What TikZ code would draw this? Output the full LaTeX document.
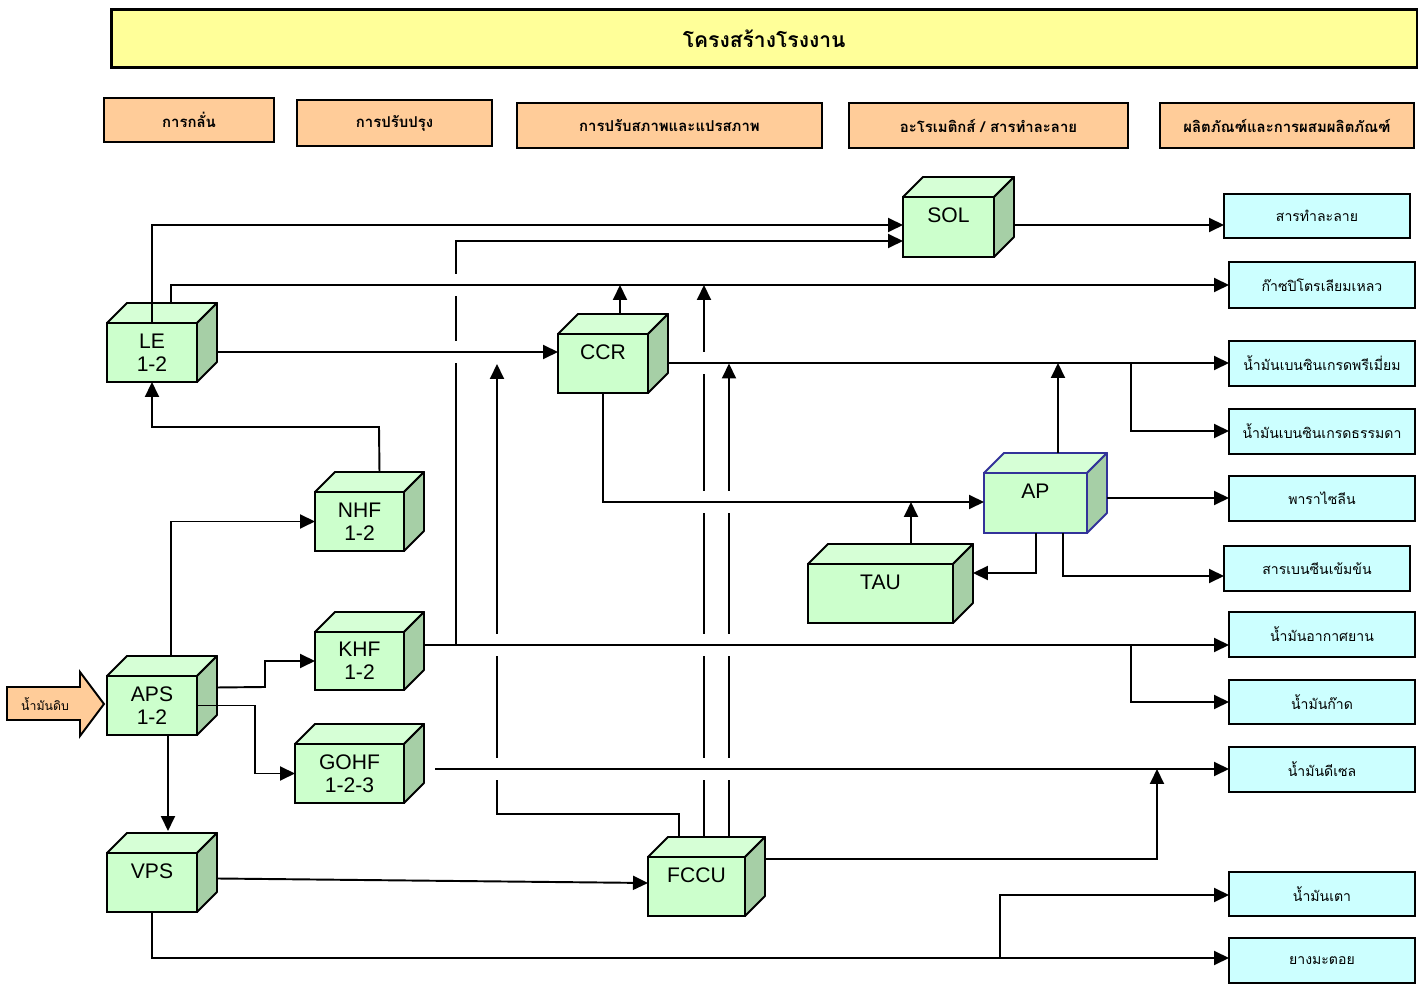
\documentclass[tikz,border=0pt]{standalone}
\usepackage{fontspec}
\setmainfont{Liberation Sans}
\newfontfamily\thaifont[Script=Thai]{Loma}
\usetikzlibrary{arrows.meta}
\definecolor{titleyellow}{RGB}{255,255,153}
\definecolor{headorange}{RGB}{255,204,153}
\definecolor{prodcyan}{RGB}{204,255,255}
\definecolor{unitfront}{RGB}{204,255,204}
\definecolor{unittop}{RGB}{214,255,214}
\definecolor{unitside}{RGB}{166,207,166}
\definecolor{apblue}{RGB}{51,51,153}
\tikzset{
  >={Triangle[length=3mm,width=2.8mm]},
  flow/.style={->,line width=1.1pt,draw=#1},
  flow/.default=black,
  head/.style={draw,fill=headorange,line width=1.1pt,anchor=north west,inner sep=0pt,outer sep=0pt,
    minimum height=0.9cm,font=\thaifont\bfseries\fontsize{8.5}{10}\selectfont},
  prod/.style={draw,fill=prodcyan,line width=1.1pt,anchor=north west,inner sep=0pt,outer sep=0pt,
    minimum width=3.72cm,minimum height=0.9cm,font=\thaifont\fontsize{8}{10}\selectfont},
  unit/.style={draw=#1,fill=unitfront,line width=1.1pt,anchor=north west,inner sep=0pt,outer sep=0pt,
    minimum width=1.8cm,minimum height=1.18cm,align=center,font=\fontsize{12}{13}\selectfont},
  unit/.default=black,
  face top/.style={fill=unittop,line width=1.1pt,line join=round},
  face side/.style={fill=unitside,line width=1.1pt,line join=round},
  gap/.style={fill=white},
}
\begin{document}
\begin{tikzpicture}[x=0.02cm,y=-0.02cm]
  \useasboundingbox (0,0) rectangle (1428,986);
  % title and column headers
  \node[draw,fill=titleyellow,line width=1.5pt,anchor=north west,minimum width=26.12cm,minimum height=1.16cm,
    inner sep=0pt,font=\thaifont\bfseries\fontsize{12}{14}\selectfont] (title) at (110,8) {โครงสร้างโรงงาน};
  \node[head,minimum width=3.4cm,minimum height=0.88cm] (hdist) at (104,98) {การกลั่น};
  \node[head,minimum width=3.9cm,minimum height=0.92cm] (hrefine) at (297,100) {การปรับปรุง};
  \node[head,minimum width=6.1cm] (hconv) at (517,103) {การปรับสภาพและแปรสภาพ};
  \node[head,minimum width=5.58cm] (harom) at (849,103) {อะโรเมติกส์ / สารทำละลาย};
  \node[head,minimum width=5.08cm] (hprod) at (1160,103) {ผลิตภัณฑ์และการผสมผลิตภัณฑ์};

  % products
  \node[prod,minimum height=0.88cm] (solv) at (1224,194) {สารทำละลาย};
  \node[prod,minimum height=0.92cm] (lpg) at (1229,262) {ก๊าซปิโตรเลียมเหลว};
  \node[prod] (premium) at (1229,341) {น้ำมันเบนซินเกรดพรีเมี่ยม};
  \node[prod] (regular) at (1229,409) {น้ำมันเบนซินเกรดธรรมดา};
  \node[prod] (pxylene) at (1229,476) {พาราไซลีน};
  \node[prod] (benzene) at (1224,546) {สารเบนซีนเข้มข้น};
  \node[prod] (jet) at (1229,612) {น้ำมันอากาศยาน};
  \node[prod,minimum height=0.88cm] (kero) at (1229,680) {น้ำมันก๊าด};
  \node[prod] (diesel) at (1229,747) {น้ำมันดีเซล};
  \node[prod,minimum height=0.88cm] (fuel) at (1229,872) {น้ำมันเตา};
  \node[prod] (asphalt) at (1229,938) {ยางมะตอย};

  % crude feed
  \filldraw[fill=headorange,line width=1.1pt,line join=miter] (7,687) -- (80,687) -- (80,672) -- (104,704)
    -- (80,736) -- (80,720) -- (7,720) -- cycle;
  \node[font=\thaifont\scriptsize] (crude) at (45,704) {น้ำมันดิบ};

  % process units
  \node[unit] (le) at (107,323) {LE\\1-2};
  \node[unit] (aps) at (107,676) {APS\\1-2};
  \node[unit] (vps) at (107,853) {VPS\\\phantom{1}};
  \node[unit,minimum width=1.78cm] (nhf) at (315,492) {NHF\\1-2};
  \node[unit,minimum width=1.78cm,minimum height=1.16cm] (khf) at (315,632) {KHF\\1-2};
  \node[unit,minimum width=2.18cm] (gohf) at (295,744) {GOHF\\1-2-3};
  \node[unit] (ccr) at (558,334) {CCR\\\phantom{1}};
  \node[unit,minimum width=1.82cm,minimum height=1.2cm] (sol) at (903,197) {SOL\\\phantom{1}};
  \node[unit=apblue,minimum width=2.06cm,minimum height=1.2cm] (ap) at (984,473) {AP\\\phantom{1}};
  \node[unit,minimum width=2.9cm] (tau) at (808,564) {TAU\\\phantom{1}};
  \node[unit,minimum width=1.94cm] (fccu) at (648,857) {FCCU\\\phantom{1}};
  \foreach \u/\c in {le/black,aps/black,vps/black,nhf/black,khf/black,gohf/black,ccr/black,sol/black,ap/apblue,tau/black,fccu/black}{
    \filldraw[face top,draw=\c] (\u.north west) -- ([shift={(20,-20)}]\u.north west)
      -- ([shift={(20,-20)}]\u.north east) -- (\u.north east) -- cycle;
    \filldraw[face side,draw=\c] (\u.north east) -- ([shift={(20,-20)}]\u.north east)
      -- ([shift={(20,-20)}]\u.south east) -- (\u.south east) -- cycle;
  }

  % risers that jump the crossing lines
  \draw[flow] (456,645) |- (sol.west |- 0,241);
  \draw[flow] ([shift={(31,-20)}]fccu.north west) |- (497,814) -- (497,364);
  \draw[flow] ([shift={(56,-20)}]fccu.north west) -- (704,0 |- lpg.west);
  \draw[flow] ([shift={(81,-20)}]fccu.north west) -- (729,0 |- premium.west);
  \foreach \x/\y in {456/285,456/352,497/645,497/769,704/363,704/502,704/645,704/769,729/502,729/645,729/769}
    \fill[gap] (\x-3,\y-11) rectangle (\x+3,\y+11);

  % distillation
  \draw[flow] (le.north) |- (sol.west |- 0,225);
  \draw[flow] ([shift={(64,-20)}]le.north west) |- (lpg.west |- 0,285);
  \draw[flow] ([xshift=0.4cm]le.east |- 0,352) -- (ccr.west |- 0,352);
  \draw[flow] ([shift={(20,-20)}]nhf.north) -- (379,427) -| (le.south);
  \draw[flow] ([shift={(19,-20)}]aps.north) |- (nhf.west);
  \draw[flow] ([shift={(20,-18)}]aps.east) -- (265,687) |- (khf.west);
  \draw[flow] (aps.east) -- (255,0 |- aps.east) |- (gohf.west);
  \draw[flow] ([xshift=0.32cm]aps.south) -- (168,831);
  \draw[flow] ([shift={(20,-4)}]vps.east) -- (fccu.west |- 0,883);
  \draw[flow] (vps.south) |- (asphalt.west |- 0,958);
  \draw[flow] (1000,958) |- (fuel.west |- 0,895);

  % treaters
  \draw[flow] ([xshift=0.4cm]khf.east |- 0,645) -- (jet.west |- 0,645);
  \draw[flow] (1131,645) |- (kero.west |- 0,702);
  \draw[flow] (435,769) -- (diesel.west |- 0,769);

  % conversion
  \draw[flow] ([shift={(62,-20)}]ccr.north west) -- (620,0 |- lpg.west);
  \draw[flow] ([xshift=0.4cm]ccr.east |- 0,363) -- (premium.west |- 0,363);
  \draw[flow] (1131,363) |- (regular.west |- 0,431);
  \draw[flow] (603,0 |- ccr.south) |- (ap.west |- 0,502);
  \draw[flow] ([shift={(20,2)}]fccu.north east) -| (1157,769);

  % aromatics
  \draw[flow] ([xshift=0.4cm]sol.east |- 0,225) -- (solv.west |- 0,225);
  \draw[flow] (911,0 |- tau.north) ++(0,-20) -- (911,502);
  \draw[flow] (1036,0 |- ap.south) |- ([xshift=0.4cm]tau.east |- 0,573);
  \draw[flow] (1063,0 |- ap.south) |- (benzene.west |- 0,576);
  \draw[flow] (1058,453) -- (1058,363);
  \draw[flow] ([xshift=0.4cm]ap.east |- 0,498) -- (pxylene.west |- 0,498);
\end{tikzpicture}
\end{document}
